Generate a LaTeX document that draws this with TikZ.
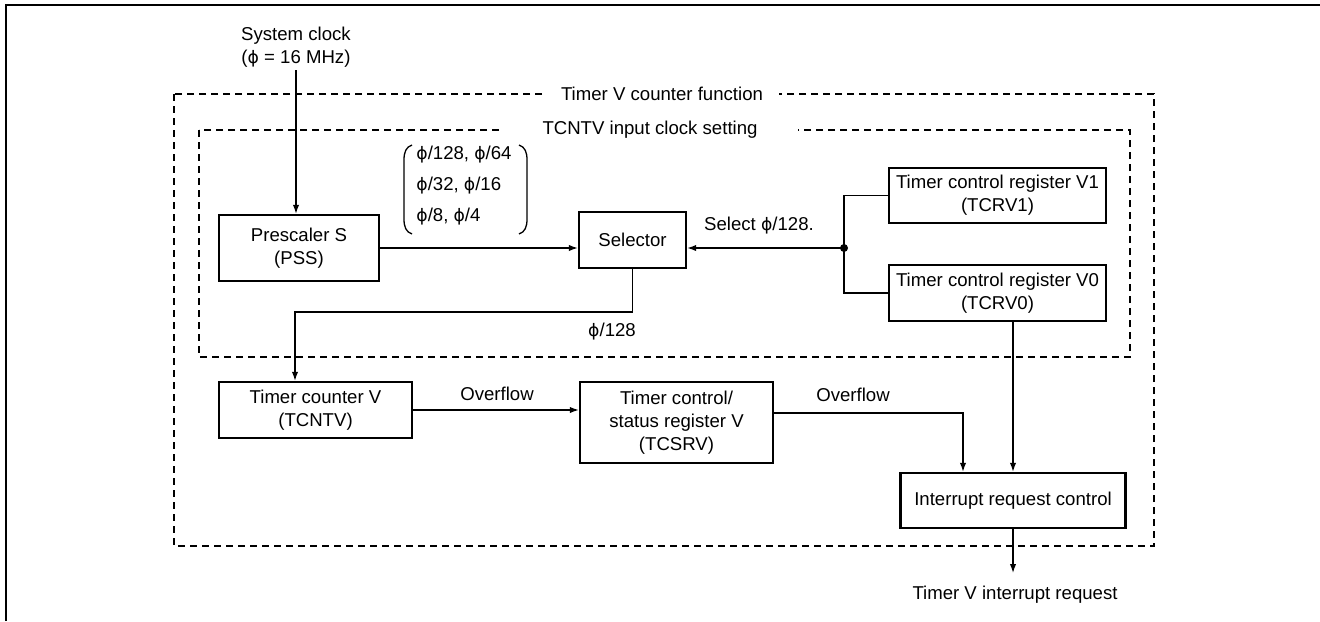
\documentclass[tikz,border=0pt]{standalone}
\usepackage{fontspec}
\setmainfont{Liberation Sans}
\newfontfamily\symfont{DejaVu Sans}
\newcommand{\phis}{{\symfont\fontsize{8.6}{10}\selectfont ϕ}}
\usetikzlibrary{arrows.meta,positioning}

\tikzstyle{block} = [draw, line width=1.2pt, rectangle, align=center, inner sep=0pt]
\tikzstyle{txt} = [align=center, inner sep=1pt]
\tikzstyle{wire} = [line width=0.65pt]
\tikzstyle{arr} = [wire, -{Latex[length=4.5pt,width=3.2pt]}]
\tikzstyle{area} = [line width=0.65pt, dash pattern=on 3.5pt off 2.5pt]
\tikzstyle{areatitle} = [fill=white, inner ysep=1pt]

\begin{document}
\begin{tikzpicture}[x=0.5pt, y=-0.5pt, font=\fontsize{9.3}{11.5}\selectfont]
\useasboundingbox (0,0) rectangle (1320,621);
%frame
\draw[line width=1pt] (6,621) -- (6,5) -- (1320,5);

%begin areas
\draw[area] (174,94) rectangle (1154,546);
\node[areatitle, inner xsep=8pt] (cnt-title) at (662,94) {Timer V counter function};
\draw[area] (199,130) rectangle (1130,357);
\node[areatitle, inner xsep=20pt] (clk-title) at (650,130) {TCNTV input clock setting};
%end areas

%begin blocks
\node[block, minimum width=80pt, minimum height=33pt] (pss) at (299,248) {Prescaler S\\(PSS)};
\node[block, minimum width=53.5pt, minimum height=28pt] (sel) at (632.5,240) {Selector};
\node[block, minimum width=108.5pt, minimum height=27.5pt] (tcrv1) at (997.5,195.5) {Timer control register V1\\(TCRV1)};
\node[block, minimum width=108.5pt, minimum height=28pt] (tcrv0) at (997.5,293) {Timer control register V0\\(TCRV0)};
\node[block, minimum width=96.5pt, minimum height=28pt] (tcntv) at (315.5,410) {Timer counter V\\(TCNTV)};
\node[block, minimum width=96.5pt, minimum height=40.5pt] (tcsrv) at (676.5,422.5) {Timer control/\\status register V\\(TCSRV)};
\node[block, minimum width=112.5pt, minimum height=27.5pt] (irq) at (1013,500.5) {Interrupt request control};
%end blocks

%begin texts
\node[txt] (sysclk) at (296,47.5) {System clock\\(\phis{} = 16 MHz)};
\node[txt, align=left, anchor=west, font=\fontsize{9.3}{15.5}\selectfont] (rates) at (414,186) {\phis/128, \phis/64\\\phis/32, \phis/16\\\phis/8, \phis/4};
\node[txt] (sel-lbl) at (759,226) {Select \phis/128.};
\node[txt] (out-lbl) at (612,332) {\phis/128};
\node[txt] (ovf1) at (497,394) {Overflow};
\node[txt] (ovf2) at (853,395) {Overflow};
\node[txt] (irq-out) at (1015,595) {Timer V interrupt request};
%end texts

%begin brackets
\draw[wire] (412,145) .. controls (406,147) and (404,152) .. (404,160) -- (404,219) .. controls (404,227) and (406,232) .. (412,234);
\draw[wire] (519,145) .. controls (525,147) and (527,152) .. (527,160) -- (527,219) .. controls (527,227) and (525,232) .. (519,234);
%end brackets

%begin connectors
\coordinate (fork) at (844,248);
\coordinate (sel-bend) at (295,312);
\coordinate (irq-end) at (1013,573);
\draw[arr] (sysclk.south) -- (sysclk.south |- pss.north);
\draw[arr] (pss.east) -- (pss.east -| sel.west);
\draw[wire] (tcrv1.west) -| (fork) |- (tcrv0.west);
\fill (fork) circle (2pt);
\draw[arr] (fork) -- (fork -| sel.east);
\draw[arr] (sel.south) |- (sel-bend) -- (sel-bend |- tcntv.north);
\draw[arr] (tcntv.east) -- (tcntv.east -| tcsrv.west);
\draw[arr] ([yshift=4.75pt]tcsrv.east) -| ([xshift=-25pt]irq.north);
\draw[arr] (irq.north |- tcrv0.south) -- (irq.north);
\draw[arr] (irq.south) -- (irq-end);
%end connectors
\end{tikzpicture}
\end{document}
